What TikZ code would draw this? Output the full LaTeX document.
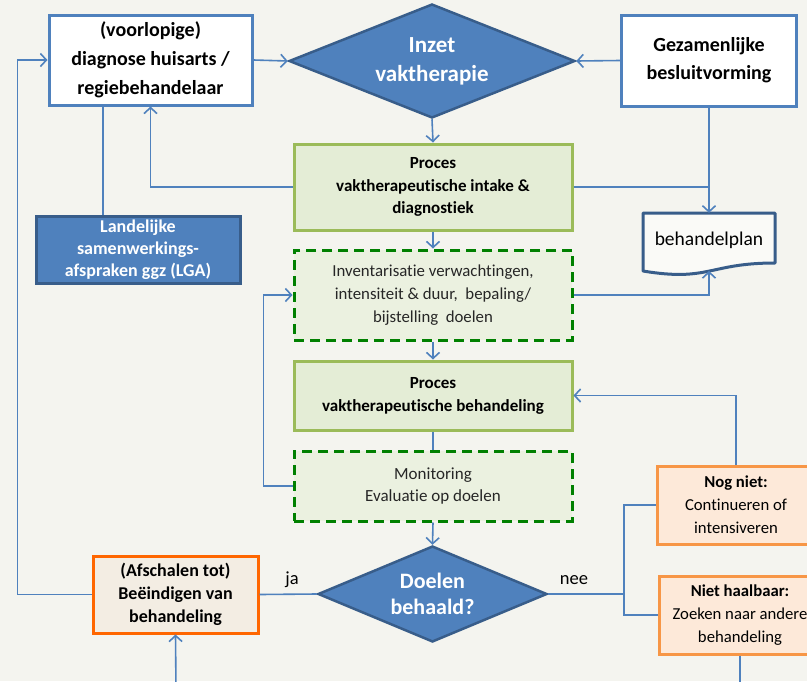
\documentclass[tikz,border=0pt]{standalone}
\usepackage{fontspec}
\setmainfont{Carlito}[Ligatures=NoCommon]
\usetikzlibrary{arrows.meta,shapes.geometric}
\definecolor{bg}{HTML}{F4F4EF}
\definecolor{lineblue}{HTML}{4F81BD}
\definecolor{darkblue}{HTML}{385D8A}
\definecolor{procfill}{HTML}{E4EDD6}
\definecolor{procline}{HTML}{9BBB59}
\definecolor{dashfill}{HTML}{EBF1E0}
\definecolor{dashline}{HTML}{008000}
\definecolor{afsfill}{HTML}{F3EDE3}
\definecolor{afsline}{HTML}{FF6600}
\definecolor{peachfill}{HTML}{FDE9D9}
\definecolor{peachline}{HTML}{F79646}
\begin{document}
\begin{tikzpicture}[x=1pt,y=-1pt,
  box/.style={rectangle, align=center, inner sep=0pt, line width=3pt},
  whitebox/.style={box, draw=lineblue, fill=white},
  procbox/.style={box, draw=procline, fill=procfill},
  dashbox/.style={box, draw=dashline, fill=dashfill, dash pattern=on 10pt off 6pt, text=black!85},
  bluebox/.style={box, draw=darkblue, fill=lineblue, text=white},
  peachbox/.style={box, draw=peachline, fill=peachfill},
  dia/.style={diamond, align=center, inner sep=0pt, draw=darkblue, fill=lineblue, line width=2.5pt, text=white},
  conn/.style={draw=lineblue, line width=1.6pt},
  arr/.style={conn, -{Straight Barb[length=6pt,width=13pt]}},
  lbl/.style={font=\fontsize{18.5}{20}\selectfont, inner sep=0pt}
]
\clip (0,0) rectangle (807,681);
\fill[bg] (0,0) rectangle (807,681);

\node[whitebox, minimum width=203pt, minimum height=90pt, font=\fontsize{20}{29}\selectfont\bfseries] (diag) at (150.5,60) {(voorlopige)\\diagnose huisarts /\\regiebehandelaar};
\node[dia, aspect=2.5, minimum width=286pt, minimum height=114pt, font=\fontsize{23}{29}\selectfont\bfseries] (inzet) at (432,61) {Inzet\\vaktherapie};
\node[whitebox, minimum width=175pt, minimum height=91pt, font=\fontsize{20}{28}\selectfont\bfseries] (gez) at (709,60.5) {Gezamenlijke\\besluitvorming};
\node[procbox, minimum width=278pt, minimum height=86pt, font=\fontsize{17}{22.5}\selectfont\bfseries] (proc1) at (433,187) {Proces\\vaktherapeutische intake \&\\diagnostiek};
\node[bluebox, minimum width=204pt, minimum height=67pt, font=\fontsize{18}{22}\selectfont\bfseries] (lga) at (138,249.5) {Landelijke\\samenwerkings-\\afspraken ggz (LGA)};

\draw[draw=darkblue, fill=white!50!bg, line width=3pt, line join=round] (643,213) -- (775,213) -- (775,263) .. controls (709,263) and (709,282) .. (643,271) -- cycle;
\node[inner sep=0pt, minimum width=132pt, minimum height=54pt, font=\fontsize{19.5}{21}\selectfont] (plan) at (709,240) {behandelplan};
\coordinate (planbot) at (709,271);

\node[dashbox, minimum width=278pt, minimum height=90pt, font=\fontsize{16.8}{23}\selectfont] (inv) at (433,295) {Inventarisatie verwachtingen,\\intensiteit \& duur,\ \ bepaling/\\bijstelling\ \ doelen};
\node[procbox, minimum width=278pt, minimum height=69pt, font=\fontsize{17}{23}\selectfont\bfseries] (proc2) at (433,395.5) {Proces\\vaktherapeutische behandeling};
\node[dashbox, minimum width=278pt, minimum height=70pt, font=\fontsize{17}{22}\selectfont] (mon) at (433,486) {Monitoring\\Evaluatie op doelen};
\node[dia, aspect=2.4, minimum width=229pt, minimum height=96pt, font=\fontsize{22}{26}\selectfont\bfseries] (doel) at (432.5,594) {Doelen\\behaald?};
\node[box, draw=afsline, fill=afsfill, minimum width=165pt, minimum height=77pt, font=\fontsize{18}{23}\selectfont\bfseries] (afs) at (175.5,594.5) {(Afschalen tot)\\Beëindigen van\\behandeling};
\node[peachbox, minimum width=158pt, minimum height=78pt, font=\fontsize{16.7}{23}\selectfont] (nog) at (736,505) {\textbf{Nog niet:}\\Continueren of\\intensiveren};
\node[peachbox, minimum width=162pt, minimum height=78pt, font=\fontsize{16.7}{23}\selectfont] (niet) at (740,615) {\textbf{Niet haalbaar:}\\Zoeken naar andere\\behandeling};

\coordinate (split) at (624,594);
\coordinate (bin) at (176,690);

\draw[arr] (diag.east) -- (inzet.west);
\draw[arr] (gez.west) -- (inzet.east);
\draw[arr] (inzet.south) -- (proc1.north);
\draw[arr] (proc1.west) -| (diag.south);
\draw[conn] ([xshift=-35pt]lga.north) -- ([xshift=-35pt]lga.north |- diag.south);
\draw[arr] (gez.south) -- (plan.north);
\draw[conn] (proc1.east) -- (proc1.east -| plan.north);
\draw[arr] (inv.east) -| (planbot);
\draw[arr] (proc1.south) -- (inv.north);
\draw[arr] (inv.south) -- (proc2.north);
\draw[conn] (proc2.south) -- (mon.north);
\draw[arr] (mon.west) -- ++(-29,0) |- (inv.west);
\draw[arr] (mon.south) -- (doel.north);
\draw[conn] (doel.west) -- (afs.east);
\node[lbl] (ja) at (292,580) {ja};
\draw[arr] (afs.west) -- ++(-74,0) |- (diag.west);
\draw[arr] (bin) -- (afs.south);
\draw[conn] (doel.east) -- (split);
\node[lbl] (nee) at (574,580) {nee};
\draw[conn] (nog.west) -| (split) |- (niet.west);
\draw[arr] (nog.north) |- (proc2.east);
\draw[conn] (niet.south) -- ++(0,30);
\end{tikzpicture}
\end{document}
